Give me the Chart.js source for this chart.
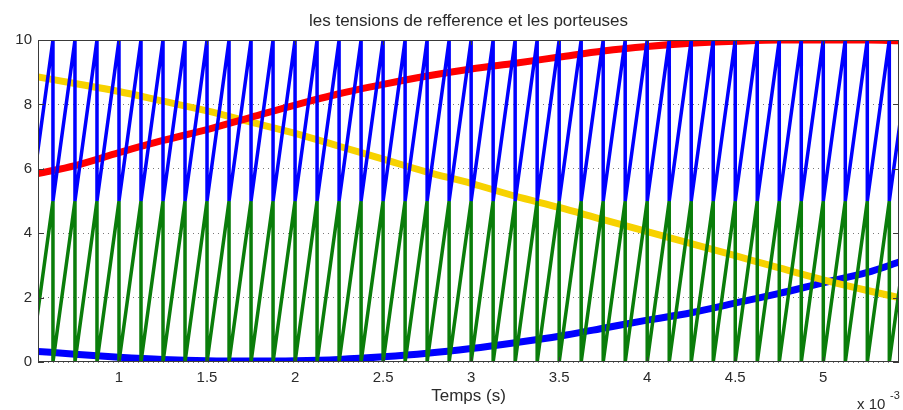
<!DOCTYPE html>
<html>
<head>
<meta charset="utf-8">
<script src="https://cdn.jsdelivr.net/npm/chart.js@4.4.1/dist/chart.umd.min.js"></script>
<style>
  html, body { margin: 0; padding: 0; background: #ffffff; }
  canvas { display: block; }
</style>
</head>
<body>
<canvas id="c" width="903" height="410"></canvas>
<script>
// ---- data (time in ms, i.e. x 10^-3 s) ----
const chartTitle = 'les tensions de refference et les porteuses';
const xAxisTitle = 'Temps (s)';
const xExponentBase = 'x 10';
const xExponent = '-3';

// instants of the vertical drops of the two carriers (sawtooth)
const toothTimes = [0.5, 0.625, 0.75, 0.875, 1, 1.125, 1.25, 1.375, 1.5, 1.625, 1.75, 1.875,
  2, 2.125, 2.25, 2.375, 2.5, 2.625, 2.75, 2.875, 3, 3.125, 3.25, 3.375, 3.5, 3.625, 3.75, 3.875,
  4, 4.125, 4.25, 4.375, 4.5, 4.625, 4.75, 4.875, 5, 5.125, 5.25, 5.375, 5.5];
const upperCarrierRange = [5, 10];
const lowerCarrierRange = [0, 5];

// reference voltages
const refTimes = [0.54, 0.75, 1, 1.25, 1.5, 1.75, 2, 2.25, 2.5, 2.75, 3, 3.25, 3.5, 3.75, 4, 4.25, 4.5, 4.75, 5, 5.25, 5.43];
const refRed = [5.85, 6.1, 6.5, 6.88, 7.22, 7.6, 7.98, 8.33, 8.62, 8.88, 9.1, 9.28, 9.47, 9.66, 9.8, 9.9, 9.96, 10, 10, 10, 9.98];
const refYellow = [8.85, 8.65, 8.4, 8.1, 7.8, 7.45, 7.1, 6.7, 6.3, 5.9, 5.55, 5.15, 4.8, 4.42, 4.05, 3.68, 3.3, 2.92, 2.55, 2.22, 2.0];
const refBlue = [0.33, 0.24, 0.15, 0.08, 0.04, 0.03, 0.04, 0.08, 0.16, 0.27, 0.42, 0.6, 0.8, 1.05, 1.3, 1.53, 1.83, 2.13, 2.46, 2.78, 3.1];

const xTicks = [1, 1.5, 2, 2.5, 3, 3.5, 4, 4.5, 5];
const yTicks = [0, 2, 4, 6, 8, 10];
const xRange = [0.54, 5.43];
const yRange = [0, 10];

// ---- build point lists ----
function sawtooth(times, range) {
  const pts = [];
  times.forEach((t, i) => {
    if (i > 0) pts.push({ x: t, y: range[1] });
    pts.push({ x: t, y: range[0] });
  });
  return pts;
}
function zipPts(xs, ys) { return xs.map((x, i) => ({ x: x, y: ys[i] })); }

const FONT = '"Liberation Sans", Arial, sans-serif';
const TXT = '#2b2b2b';

const boxPlugin = {
  id: 'box',
  afterDatasetsDraw(chart) {
    const { ctx, chartArea: a, scales } = chart;
    ctx.save();
    ctx.strokeStyle = '#3a3a3a';
    ctx.lineWidth = 1;
    ctx.strokeRect(Math.round(a.left) + 0.5, Math.round(a.top) + 0.5,
      Math.round(a.right - a.left) - 1, Math.round(a.bottom - a.top) - 1);
    ctx.beginPath();
    scales.x.ticks.forEach(t => {
      const p = Math.round(scales.x.getPixelForValue(t.value)) + 0.5;
      ctx.moveTo(p, a.bottom); ctx.lineTo(p, a.bottom - 5);
      ctx.moveTo(p, a.top); ctx.lineTo(p, a.top + 5);
    });
    scales.y.ticks.forEach(t => {
      const p = Math.round(scales.y.getPixelForValue(t.value)) + 0.5;
      ctx.moveTo(a.left, p); ctx.lineTo(a.left + 6, p);
      ctx.moveTo(a.right, p); ctx.lineTo(a.right - 6, p);
    });
    ctx.stroke();
    // exponent of the x axis
    ctx.fillStyle = TXT;
    ctx.textAlign = 'left';
    ctx.textBaseline = 'alphabetic';
    ctx.font = '15px ' + FONT;
    ctx.fillText(xExponentBase, a.right - 42, chart.height - 1);
    ctx.font = '11px ' + FONT;
    ctx.fillText(xExponent, a.right - 9, chart.height - 11);
    ctx.restore();
  }
};

new Chart(document.getElementById('c'), {
  type: 'line',
  data: {
    datasets: [
      { label: 'porteuse haute', data: sawtooth(toothTimes, upperCarrierRange), borderColor: '#0000ff', borderWidth: 3.5, order: 0, tension: 0, clip: 0 },
      { label: 'porteuse basse', data: sawtooth(toothTimes, lowerCarrierRange), borderColor: '#0a7d0a', borderWidth: 3.5, order: 0, tension: 0, clip: 0 },
      { label: 'va', data: zipPts(refTimes, refRed), borderColor: '#ff0000', borderWidth: 7, order: 1, cubicInterpolationMode: 'monotone', clip: 0 },
      { label: 'vb', data: zipPts(refTimes, refYellow), borderColor: '#f7d200', borderWidth: 7, order: 1, cubicInterpolationMode: 'monotone', clip: 0 },
      { label: 'vc', data: zipPts(refTimes, refBlue), borderColor: '#0000ff', borderWidth: 7, order: 1, cubicInterpolationMode: 'monotone', clip: 0 }
    ]
  },
  options: {
    responsive: false,
    animation: false,
    devicePixelRatio: 1,
    elements: { point: { radius: 0, hoverRadius: 0 }, line: { borderCapStyle: 'butt', borderJoinStyle: 'miter' } },
    layout: { padding: { left: 0, right: 4, top: 0, bottom: 0 } },
    plugins: {
      legend: { display: false },
      tooltip: { enabled: false },
      title: {
        display: true, text: chartTitle, color: TXT, fullSize: false,
        font: { family: FONT, size: 17, weight: 'normal' },
        padding: { top: 11, bottom: 8.6 }
      }
    },
    scales: {
      x: {
        type: 'linear', min: xRange[0], max: xRange[1],
        afterBuildTicks: s => { s.ticks = xTicks.map(v => ({ value: v })); },
        afterFit: s => { s.height = 48; },
        grid: { display: false, drawTicks: false },
        border: { display: false },
        ticks: { color: TXT, font: { family: FONT, size: 15 }, padding: 7, maxRotation: 0, callback: v => String(v) },
        title: { display: true, text: xAxisTitle, color: TXT, font: { family: FONT, size: 17 }, padding: { top: 0, bottom: 3 } }
      },
      y: {
        type: 'linear', min: yRange[0], max: yRange[1],
        afterBuildTicks: s => { s.ticks = yTicks.map(v => ({ value: v })); },
        afterFit: s => { s.width = 38; },
        grid: { color: '#7a7a7a', lineWidth: 1, drawTicks: false },
        border: { display: false, dash: [1, 4] },
        ticks: { color: TXT, font: { family: FONT, size: 15 }, padding: 6, callback: v => String(v) }
      }
    }
  },
  plugins: [boxPlugin]
});
</script>
</body>
</html>
